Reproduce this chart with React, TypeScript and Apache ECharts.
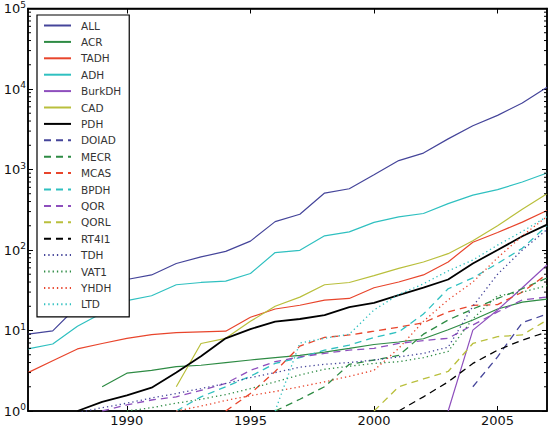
import React, { useEffect, useRef } from "react";
import * as echarts from "echarts";

const years = [1986, 1987, 1988, 1989, 1990, 1991, 1992, 1993, 1994, 1995, 1996, 1997, 1998, 1999, 2000, 2001, 2002, 2003, 2004, 2005, 2006, 2007];

const N = null;
const ALL = [9.0, 9.9, 20, 36, 43, 49, 68, 82, 96, 129, 225, 278, 510, 577, 860, 1290, 1600, 2400, 3500, 4700, 6700, 10500];
const ACR = [N, N, N, 2.0, 2.95, 3.2, 3.55, 3.7, 4.0, 4.3, 4.6, 4.9, 5.4, 6.0, 6.7, 7.2, 7.9, 10.2, 13.5, 18.5, 22.5, 24.5];
const TADH = [3.0, 4.2, 5.9, 6.9, 8.0, 8.9, 9.4, 9.6, 9.8, 14.6, 18.5, 20.6, 23.8, 25, 34, 40, 49, 71, 125, 165, 222, 310];
const ADH = [5.9, 6.8, 11.3, 16.5, 23.5, 27, 37, 39.5, 41, 51, 93, 99, 150, 168, 220, 258, 284, 377, 480, 563, 700, 905];
const BurkDH = [N, N, N, N, N, N, N, N, N, N, N, N, N, N, N, N, N, 1.0, 10.1, 18, 34, 65];
const CAD = [N, N, N, N, N, N, 2.0, 6.9, 8.0, 13, 20, 26, 37, 39.5, 48, 59, 71, 90, 130, 200, 320, 500];
const PDH = [N, N, 1.0, 1.3, 1.56, 1.95, 3.0, 4.8, 8.0, 10.4, 12.9, 13.9, 15.5, 19.5, 22, 27.5, 34, 43, 68, 100, 148, 207];
const DOIAD = [N, N, N, N, N, N, N, N, N, N, N, N, N, N, N, N, N, N, 2.0, 4.7, 12.5, 16];
const MECR = [N, N, N, N, N, N, N, N, N, N, 1.0, 1.4, 2.0, 3.8, 4.3, 4.9, 9, 13.5, 18.5, 25, 33, 45];
const MCAS = [N, N, N, N, N, N, N, N, 1.0, 1.65, 3.1, 6.4, 8.2, 8.8, 9.8, 11, 12.5, 17, 20.5, 21, 30, 50];
const BPDH = [N, N, N, N, N, N, 1.0, 1.5, 2.0, 2.7, 3.9, 4.6, 5.7, 6.6, 8.2, 9.6, 16, 33, 45, 68, 105, 200];
const QOR = [N, N, N, 1.0, 1.19, 1.37, 1.5, 1.8, 2.2, 3.2, 4.1, 4.7, 5.2, 5.7, 6.0, 6.9, 7.5, 8.0, 11.7, 17, 24, 26];
const QORL = [N, N, N, N, N, N, N, N, N, N, N, N, N, N, 1.0, 2.0, 2.5, 3.1, 6.9, 8.4, 8.8, 13.5];
const RT4I1 = [N, N, N, N, N, N, N, N, N, N, N, N, N, N, N, 1.0, 1.5, 2.3, 3.9, 5.7, 7.6, 9.6];
const TDH = [N, N, 0.95, 1.1, 1.25, 1.45, 1.65, 1.9, 2.2, 2.6, 3.0, 3.5, 3.8, 4.0, 4.3, 4.7, 5.2, 6.2, 20, 50, 100, 180];
const VAT1 = [N, N, N, N, 1.0, 1.1, 1.25, 1.4, 1.6, 1.9, 2.3, 2.8, 3.3, 3.6, 3.9, 4.1, 4.6, 5.5, 14, 27, 30, 36];
const YHDH = [N, N, N, N, N, N, 1.0, 1.15, 1.35, 1.55, 1.75, 2.0, 2.3, 2.7, 3.2, 6, 13, 24, 40, 80, 150, 260];
const LTD = [N, N, N, N, N, N, N, N, N, N, 1.0, 7, 8, 9, 18, 28, 38, 55, 75, 115, 170, 260];

const xTicks = [1990, 1995, 2000, 2005];
const minorTickValues = [2, 3, 4, 5, 6, 7, 8, 9, 20, 30, 40, 50, 60, 70, 80, 90, 200, 300, 400, 500, 600, 700, 800, 900, 2000, 3000, 4000, 5000, 6000, 7000, 8000, 9000, 20000, 30000, 40000, 50000, 60000, 70000, 80000, 90000];

const C_B = "#45459a";
const C_G = "#2e8b44";
const C_R = "#e8452c";
const C_C = "#2fc0c0";
const C_M = "#8e4fbd";
const C_Y = "#b9bf3c";
const C_K = "#000000";

const seriesDefs: [string, (number | null)[], string, string][] = [
  ["ALL", ALL, C_B, "solid"],
  ["ACR", ACR, C_G, "solid"],
  ["TADH", TADH, C_R, "solid"],
  ["ADH", ADH, C_C, "solid"],
  ["BurkDH", BurkDH, C_M, "solid"],
  ["CAD", CAD, C_Y, "solid"],
  ["PDH", PDH, C_K, "solid"],
  ["DOIAD", DOIAD, C_B, "dashed"],
  ["MECR", MECR, C_G, "dashed"],
  ["MCAS", MCAS, C_R, "dashed"],
  ["BPDH", BPDH, C_C, "dashed"],
  ["QOR", QOR, C_M, "dashed"],
  ["QORL", QORL, C_Y, "dashed"],
  ["RT4I1", RT4I1, C_K, "dashed"],
  ["TDH", TDH, C_B, "dotted"],
  ["VAT1", VAT1, C_G, "dotted"],
  ["YHDH", YHDH, C_R, "dotted"],
  ["LTD", LTD, C_C, "dotted"],
];

const FONT = "DejaVu Sans";

export default function App() {
  const ref = useRef<HTMLDivElement>(null);
  useEffect(() => {
    if (!ref.current) return;
    const chart = echarts.init(ref.current, null, { renderer: "svg" });

    const lineSeries = seriesDefs.map(([name, vals, color, kind]) => ({
      name,
      type: "line",
      xAxisIndex: 0,
      yAxisIndex: 0,
      symbol: "none",
      showSymbol: false,
      connectNulls: false,
      clip: true,
      data: years.map((y, i) => (vals[i] == null ? [y, null] : [y, vals[i]])),
      lineStyle: {
        color,
        width: name === "PDH" ? 1.8 : kind === "solid" ? 1.2 : 1.3,
        type: kind === "dashed" ? [7, 5] : kind === "dotted" ? [1.3, 3] : "solid",
      },
      itemStyle: { color },
      z: 3,
    }));

    const minorSeries = {
      name: "minorTicks",
      type: "custom",
      xAxisIndex: 0,
      yAxisIndex: 0,
      silent: true,
      data: minorTickValues.map((v) => [1986, v]),
      renderItem: (params: any, api: any) => {
        const v = api.value(1);
        const l = api.coord([1986, v]);
        const r = api.coord([2007, v]);
        return {
          type: "group",
          children: [
            { type: "line", shape: { x1: l[0], y1: l[1], x2: l[0] + 3, y2: l[1] }, style: { stroke: "#000", lineWidth: 1 } },
            { type: "line", shape: { x1: r[0], y1: r[1], x2: r[0] - 3, y2: r[1] }, style: { stroke: "#000", lineWidth: 1 } },
          ],
        };
      },
      z: 5,
    };

    chart.setOption({
      animation: false,
      backgroundColor: "#ffffff",
      grid: {
        left: 28,
        right: 2,
        top: 8,
        bottom: 18,
        show: true,
        borderColor: "#000",
        borderWidth: 1.5,
        backgroundColor: "transparent",
        containLabel: false,
      },
      legend: {
        orient: "vertical",
        left: 37,
        top: 15,
        backgroundColor: "#fff",
        borderColor: "#000",
        borderWidth: 1.2,
        borderRadius: 0,
        padding: [5, 8, 7, 6],
        itemWidth: 27,
        itemHeight: 10,
        itemGap: 5.4,
        itemStyle: { opacity: 0 },
        data: seriesDefs.map((d) => d[0]),
        textStyle: { fontFamily: FONT, fontSize: 10.5, color: "#333", padding: [0, 0, 0, 5] },
        selectedMode: false,
        z: 10,
      },
      xAxis: [
        {
          type: "value",
          min: 1986,
          max: 2007,
          position: "bottom",
          axisLine: { show: true, lineStyle: { color: "#000", width: 1.5 } },
          axisTick: { show: true, inside: true, length: 5, customValues: xTicks, lineStyle: { color: "#000" } },
          axisLabel: {
            show: true,
            customValues: xTicks,
            margin: 3,
            fontFamily: FONT,
            fontSize: 13,
            color: "#111",
            formatter: (v: number) => String(v),
          },
          splitLine: { show: false },
        },
        {
          type: "value",
          min: 1986,
          max: 2007,
          position: "top",
          axisLine: { show: true, lineStyle: { color: "#000", width: 1.5 } },
          axisTick: { show: true, inside: true, length: 5, customValues: xTicks, lineStyle: { color: "#000" } },
          axisLabel: { show: false },
          splitLine: { show: false },
        },
      ],
      yAxis: [
        {
          type: "log",
          logBase: 10,
          min: 1,
          max: 100000,
          position: "left",
          axisLine: { show: true, lineStyle: { color: "#000", width: 1.5 } },
          axisTick: { show: true, inside: true, length: 5, lineStyle: { color: "#000" } },
          axisLabel: {
            show: true,
            margin: 2,
            fontFamily: FONT,
            fontSize: 13,
            color: "#111",
            formatter: (v: number) => `{b|10}{s|${Math.round(Math.log10(v))}}`,
            rich: {
              b: { fontFamily: FONT, fontSize: 13, color: "#111" },
              s: { fontFamily: FONT, fontSize: 9, color: "#111", padding: [0, 0, 8, 0] },
            },
          },
          splitLine: { show: false },
        },
        {
          type: "log",
          logBase: 10,
          min: 1,
          max: 100000,
          position: "right",
          axisLine: { show: true, lineStyle: { color: "#000", width: 1.5 } },
          axisTick: { show: true, inside: true, length: 5, lineStyle: { color: "#000" } },
          axisLabel: { show: false },
          splitLine: { show: false },
        },
      ],
      series: [...lineSeries, minorSeries],
    });
    return () => chart.dispose();
  }, []);
  return <div ref={ref} style={{ position: "absolute", left: 0, top: 0, width: 549, height: 429 }} />;
}
